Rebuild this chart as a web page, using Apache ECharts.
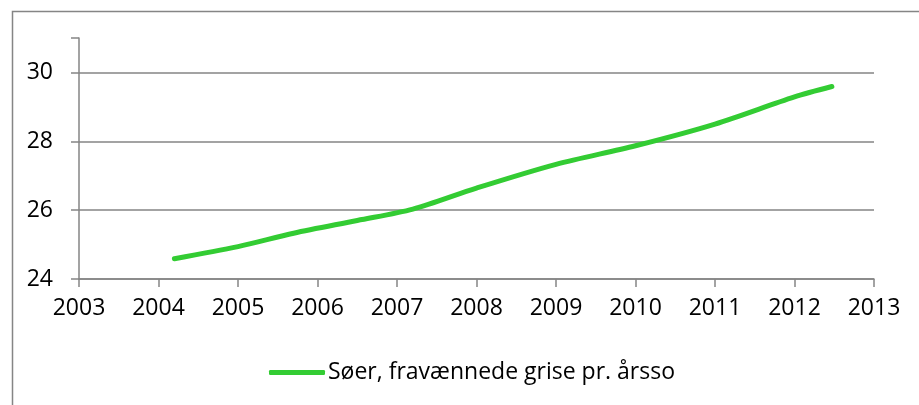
<!DOCTYPE html>
<html>
<head>
<meta charset="utf-8">
<script src="https://cdn.jsdelivr.net/npm/echarts@6/dist/echarts.min.js"></script>
<style>
  html, body { margin: 0; padding: 0; background: #fff; }
  #chart { width: 919px; height: 405px; }
</style>
</head>
<body>
<div id="chart"></div>
<script>
// values
var years = [2004.2, 2005.0, 2005.7, 2006.5, 2007.2, 2008.0, 2009.0, 2010.0, 2011.0, 2012.0, 2012.47];
var sows = [24.59, 24.94, 25.33, 25.70, 26.03, 26.64, 27.33, 27.87, 28.50, 29.29, 29.59];
var yTicks = [24, 26, 28, 30];
var seriesName = 'Søer, fravænnede grise pr. årsso';

var chart = echarts.init(document.getElementById('chart'));
var axisGray = '#858585';
var font = '"Open Sans", "Noto Sans", sans-serif';

var option = {
  animation: false,
  graphic: [{
    type: 'rect',
    left: 10, top: 9,
    shape: { width: 1000, height: 500 },
    style: { fill: 'none', stroke: axisGray, lineWidth: 1.5 }
  }],
  grid: { left: 79, right: 45, top: 38, bottom: 126 },
  legend: {
    left: 264,
    top: 356,
    icon: 'roundRect',
    itemWidth: 56,
    itemHeight: 5,
    itemGap: 10,
    textStyle: { fontFamily: font, fontSize: 23, color: '#000', padding: [0, 0, 0, -2] },
    data: [seriesName]
  },
  xAxis: {
    type: 'value',
    min: 2003,
    max: 2013,
    interval: 1,
    axisLine: { lineStyle: { color: axisGray, width: 1.5 } },
    axisTick: { show: true, length: 8, lineStyle: { color: axisGray, width: 1.5 } },
    axisLabel: {
      fontFamily: font, fontSize: 23, color: '#000', margin: 18,
      formatter: function (v) { return String(v); }
    },
    splitLine: { show: false }
  },
  yAxis: {
    type: 'value',
    min: 24,
    max: 31,
    interval: 2,
    axisLine: { show: true, lineStyle: { color: axisGray, width: 1.5 } },
    axisTick: { show: true, length: 8, lineStyle: { color: axisGray, width: 1.5 } },
    axisLabel: { fontFamily: font, fontSize: 23, color: '#000', margin: 26, customValues: yTicks },
    splitLine: { show: true, showMaxLine: false, lineStyle: { color: axisGray, width: 1.5 } }
  },
  series: [{
    name: seriesName,
    type: 'line',
    data: years.map(function (y, i) { return [y, sows[i]]; }),
    smooth: 0.3,
    showSymbol: false,
    symbol: 'none',
    lineStyle: { color: '#33cc33', width: 5, cap: 'round' },
    itemStyle: { color: '#33cc33' }
  }]
};
chart.setOption(option);
</script>
</body>
</html>
